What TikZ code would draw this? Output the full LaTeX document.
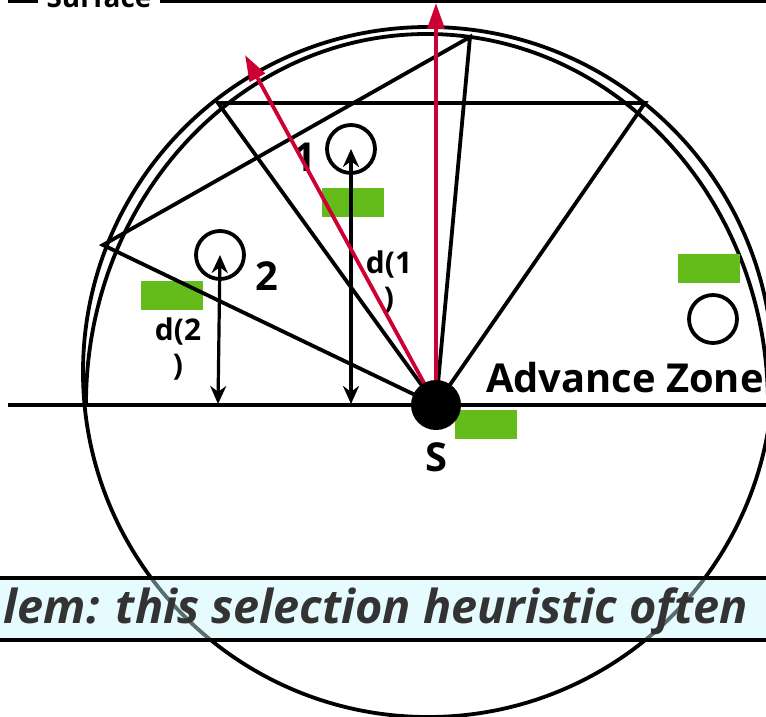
\documentclass[tikz,border=0pt]{standalone}
\usepackage{fontspec}
\setmainfont{Open Sans}
\usetikzlibrary{arrows.meta}
\definecolor{zonegreen}{RGB}{100,188,26}
\definecolor{rayred}{RGB}{204,0,51}
\definecolor{notefill}{RGB}{200,246,250}
\definecolor{notetext}{RGB}{51,51,51}

\begin{document}
\begin{tikzpicture}[x=1bp, y=-1bp, line width=3.8bp,
  nbr/.style={draw, circle, minimum size=48bp, inner sep=0pt},
  tag/.style={fill=zonegreen, minimum width=62bp, minimum height=29bp, inner sep=0pt},
  lbl/.style={font=\fontsize{40}{44}\selectfont\bfseries, inner sep=0pt},
  dlbl/.style={font=\fontsize{30}{36}\selectfont\bfseries, align=center, inner sep=0pt},
  ray/.style={rayred, -{Triangle[length=26bp, width=17bp]}},
  dist/.style={line width=3.2bp, {Stealth[length=18bp, width=16bp]}-{Stealth[length=18bp, width=16bp]}}]
  \useasboundingbox (0,0) rectangle (766,717);

  % radio range and advance zone boundary
  \draw (428,372) circle[radius=345];
  \draw (86,404) arc[start angle=180, end angle=360, x radius=341, y radius=370];

  % surface
  \node[font=\fontsize{28}{30}\selectfont\bfseries, anchor=base] (surf) at (99,8) {Surface};
  \draw (8,1.5) -- (38,1.5);
  \draw (160,1.5) -- (770,1.5);

  % green tags
  \node[tag] (t1) at (353,202) {};
  \node[tag] (t2) at (172,295) {};
  \node[tag] (t3) at (709,268) {};
  \node[tag] (ts) at (486,424) {};

  % ground line
  \coordinate (gl) at (8,405);
  \coordinate (gr) at (770,405);
  \draw (gl) -- (gr);

  % sectors from S
  \coordinate (S) at (436,405);
  \coordinate (a1) at (218,103);
  \coordinate (a2) at (645,103);
  \coordinate (b1) at (103,245);
  \coordinate (b2) at (470,37);
  \draw (S) -- (a1) -- (a2) -- cycle;
  \draw (S) -- (b1) -- (b2) -- cycle;

  % neighbours
  \node[nbr] (n1) at (351,149) {};
  \node[nbr] (n2) at (220,255) {};
  \node[nbr] (n3) at (713,319) {};
  \node[lbl] (l1) at (305,157) {1};
  \node[lbl] (l2) at (267,276) {2};

  % distances to the surface
  \coordinate (g1) at (351,404);
  \coordinate (g2) at (218,404);
  \draw[dist] (g1) -- (n1.center);
  \draw[dist] (g2) -- (n2.center);
  \node[dlbl] (d1) at (389,282) {d(1\\)};
  \node[dlbl] (d2) at (178,349) {d(2\\)};

  % red rays
  \coordinate (up) at (436,3);
  \coordinate (tilt) at (245,55);
  \draw[ray] (S) -- (up);
  \draw[ray] (S) -- (tilt);

  % source
  \node[circle, fill, minimum size=50bp, inner sep=0pt] (src) at (S) {};
  \node[lbl] (sl) at (436,457) {S};
  \node[lbl] (zone) at (625,378) {Advance Zone};

  % note bar
  \draw[fill=notefill, fill opacity=0.45] (-5,578) rectangle (771,640);
  \node[anchor=base west, text=notetext, inner sep=0pt,
    font=\fontsize{47}{50}\selectfont\bfseries\itshape] (note) at (2,623)
    {lem: this selection heuristic often};
\end{tikzpicture}
\end{document}
